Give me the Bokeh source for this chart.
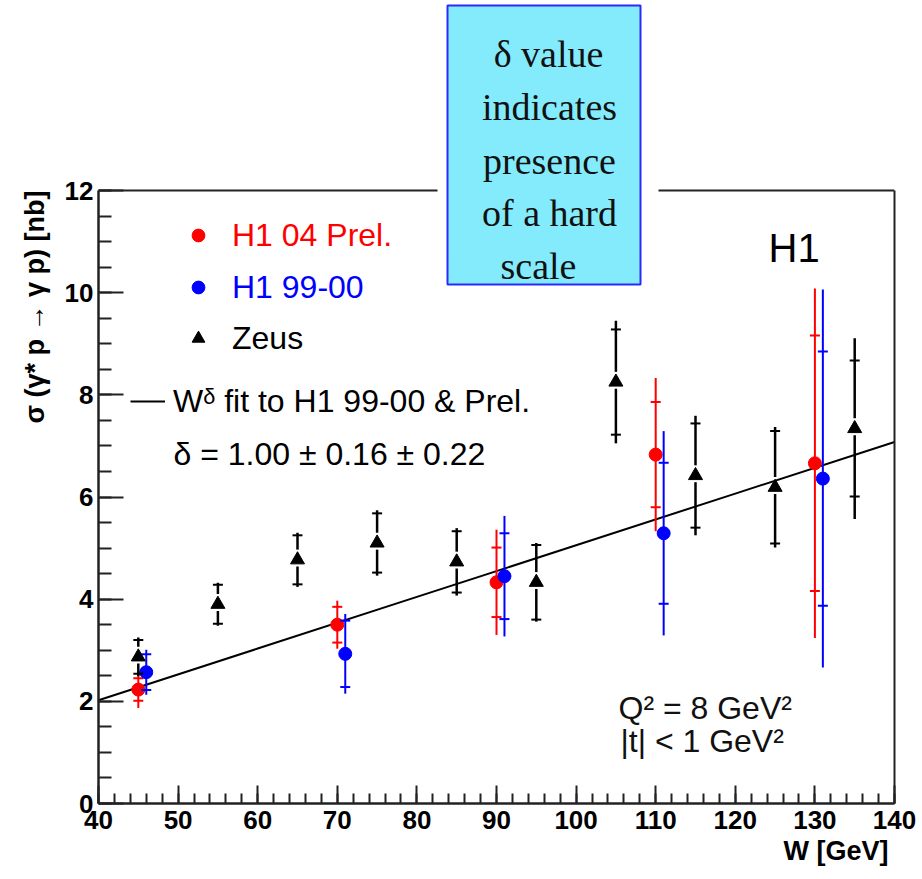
import numpy as np

from bokeh.plotting import figure
from bokeh.models import (Range1d, SingleIntervalTicker, FixedTicker, LinearAxis, Label,
                          BoxAnnotation, Legend, LegendItem, Span, Title)
from bokeh.embed import file_html
from bokeh.resources import INLINE

# ---------------------------------------------------------------- data
# DVCS cross section sigma(gamma* p -> gamma p) [nb] versus W [GeV]
h1_04_w = [45, 70, 90, 110, 130]
h1_04_sigma = [2.23, 3.50, 4.33, 6.83, 6.66]
h1_04_stat = [0.22, 0.35, 0.68, 1.03, 2.50]
h1_04_tot = [0.36, 0.47, 1.03, 1.50, 3.42]

h1_9900_w = [46, 71, 91, 111, 131]
h1_9900_sigma = [2.57, 2.93, 4.45, 5.29, 6.36]
h1_9900_stat = [0.35, 0.65, 0.84, 1.38, 2.49]
h1_9900_tot = [0.44, 0.78, 1.18, 2.00, 3.70]

zeus_w = [45, 55, 65, 75, 85, 95, 105, 115, 125, 135]
zeus_sigma = [2.87, 3.90, 4.77, 5.10, 4.73, 4.33, 8.25, 6.42, 6.19, 7.34]
zeus_stat = [0.33, 0.38, 0.48, 0.58, 0.60, 0.73, 1.03, 1.02, 1.10, 1.33]
zeus_tot = [0.38, 0.42, 0.53, 0.64, 0.66, 0.77, 1.20, 1.17, 1.18, 1.77]

# W^delta fit to H1 99-00 & Prel.: sigma = fit_norm * (W / fit_w0)^fit_delta
fit_w0 = 90.0
fit_norm = 4.55
fit_delta = 1.00
fit_w = [40, 60, 80, 100, 120, 140]

x_lo, x_hi = 40, 140
y_lo, y_hi = 0, 12
x_ticks_interval = 10
y_ticks_interval = 2

RED = "#ff0000"
BLUE = "#0000ff"
BLACK = "#000000"
EDGE = "#222222"
SANS = "Liberation Sans"

# ---------------------------------------------------------------- figure
# The plotting area reaches the top of the canvas so that the call-out box
# above the axes can be drawn; the visible frame stops at y = 12.
WIDTH, HEIGHT = 922, 879
BORDER_TOP_VISIBLE, BORDER_BOTTOM = 190, 76
frame_h = HEIGHT - BORDER_BOTTOM
y_top = y_hi * frame_h / (frame_h - BORDER_TOP_VISIBLE)

p = figure(width=WIDTH, height=HEIGHT, output_backend="svg", toolbar_location=None,
           x_range=Range1d(x_lo, x_hi), y_range=Range1d(y_lo, y_top),
           min_border_left=98, min_border_right=28, min_border_top=0,
           min_border_bottom=BORDER_BOTTOM)
p.outline_line_color = None
p.grid.visible = False
p.background_fill_color = "white"
p.border_fill_color = "white"

xa = p.xaxis[0]
xa.ticker = SingleIntervalTicker(interval=x_ticks_interval, num_minor_ticks=5)
xa.major_tick_in, xa.major_tick_out = 18, 0
xa.minor_tick_in, xa.minor_tick_out = 10, 0
xa.major_label_standoff = 7
ya = p.yaxis[0]
ya.ticker = SingleIntervalTicker(interval=y_ticks_interval, num_minor_ticks=4)
ya.major_tick_in, ya.major_tick_out = 25, 0
ya.minor_tick_in, ya.minor_tick_out = 13, 0
ya.major_label_standoff = 5
ya.bounds = (y_lo, y_hi)
for ax in (xa, ya):
    ax.axis_line_width = 2.5
    ax.major_tick_line_width = 2
    ax.minor_tick_line_width = 2
    ax.axis_line_color = EDGE
    ax.major_tick_line_color = EDGE
    ax.minor_tick_line_color = EDGE
    ax.major_label_text_font = SANS
    ax.major_label_text_font_style = "bold"
    ax.major_label_text_font_size = "26px"
    ax.major_label_text_color = BLACK

# right and top edges of the frame
right_edge = LinearAxis(ticker=FixedTicker(ticks=[]), axis_line_width=2,
                        axis_line_color=EDGE, bounds=(y_lo, y_hi),
                        major_tick_line_color=None, minor_tick_line_color=None)
p.add_layout(right_edge, "right")
p.add_layout(Span(location=y_hi, dimension="width", line_color=EDGE, line_width=2))

# axis titles
p.add_layout(Title(text="\u03c3 (\u03b3* p \u2192 \u03b3 p) [nb]", align="right",
                   offset=BORDER_TOP_VISIBLE, standoff=24, text_font=SANS,
                   text_font_size="27px", text_font_style="bold",
                   text_color=BLACK), "left")
p.add_layout(Title(text="W [GeV]", align="right", offset=6, standoff=8,
                   vertical_align="top", text_font=SANS, text_font_size="27px",
                   text_font_style="bold", text_color=BLACK), "below")

# ---------------------------------------------------------------- fit line
fit_sigma = [fit_norm * (w / fit_w0) ** fit_delta for w in fit_w]
r_fit = p.line(fit_w, fit_sigma, line_color=BLACK, line_width=2)


# ---------------------------------------------------------------- data series
def h1_series(w, s, stat, tot, color):
    w = np.array(w, float); s = np.array(s, float)
    stat = np.array(stat, float); tot = np.array(tot, float)
    p.segment(x0=w, y0=s - tot, x1=w, y1=s + tot, line_color=color, line_width=2)
    p.scatter(np.concatenate([w, w]), np.concatenate([s - stat, s + stat]),
              marker="dash", size=10, line_color=color, line_width=2)
    return p.scatter(w, s, marker="circle", size=13, fill_color=color,
                     line_color=color)


r_red = h1_series(h1_04_w, h1_04_sigma, h1_04_stat, h1_04_tot, RED)
r_blue = h1_series(h1_9900_w, h1_9900_sigma, h1_9900_stat, h1_9900_tot, BLUE)

# Zeus: error bars leave a small gap around the triangle
gap_up, gap_dn = 0.20, 0.13
zw = np.array(zeus_w, float); zs = np.array(zeus_sigma, float)
zst = np.array(zeus_stat, float); zt = np.array(zeus_tot, float)
p.segment(x0=np.concatenate([zw, zw]), y0=np.concatenate([zs + gap_up, zs - gap_dn]),
          x1=np.concatenate([zw, zw]), y1=np.concatenate([zs + zt, zs - zt]),
          line_color=BLACK, line_width=2.5)
p.scatter(np.concatenate([zw, zw]), np.concatenate([zs - zst, zs + zst]),
          marker="dash", size=10, line_color=BLACK, line_width=2)
r_zeus = p.scatter(zw, zs, marker="triangle", size=14, fill_color=BLACK,
                   line_color=BLACK)


# ---------------------------------------------------------------- legends
def one_row_legend(label, renderer, color, loc, glyph_w, standoff):
    leg = Legend(items=[LegendItem(label=label, renderers=[renderer])],
                 location=loc, orientation="vertical",
                 glyph_width=glyph_w, glyph_height=38, label_height=38,
                 label_standoff=standoff, spacing=0, padding=0, margin=0,
                 border_line_color=None, background_fill_alpha=0,
                 label_text_font=SANS, label_text_font_size="32px",
                 label_text_color=color)
    p.add_layout(leg)


one_row_legend("H1 04 Prel.", r_red, RED, (84, 549), 32, 18)
one_row_legend("H1 99-00", r_blue, BLUE, (84, 497), 32, 18)
one_row_legend("Zeus", r_zeus, BLACK, (84, 446), 32, 18)
one_row_legend("W\u1d5f fit to H1 99-00 & Prel.", r_fit, BLACK, (32, 383), 35, 8)


# ---------------------------------------------------------------- texts
def text(t, x, y, size, font=SANS, style="normal", align="left",
         baseline="alphabetic", color=BLACK, level="annotation"):
    p.add_layout(Label(x=x, y=y, x_units="canvas", y_units="canvas", text=t,
                       text_font=font, text_font_size=size, text_font_style=style,
                       text_align=align, text_baseline=baseline,
                       text_color=color, level=level))


text("\u03b4 = 1.00 \u00b1 0.16 \u00b1 0.22", 173, 453, "32px")
text("H1", 768, 247, "40px")
text("Q\u00b2 = 8 GeV\u00b2", 618, 707, "32px", color="#111111")
text("|t| < 1 GeV\u00b2", 620, 740, "32px", color="#111111")

# call-out box about the delta value
p.add_layout(BoxAnnotation(left=437, right=658, top=184, bottom=196,
                           left_units="canvas", right_units="canvas",
                           top_units="canvas", bottom_units="canvas",
                           fill_color="white", fill_alpha=1.0, line_color=None,
                           level="overlay"))
p.add_layout(BoxAnnotation(left=447, right=640, top=5, bottom=284,
                           left_units="canvas", right_units="canvas",
                           top_units="canvas", bottom_units="canvas",
                           fill_color="#84ebfd", fill_alpha=1.0,
                           line_color="#2a2aff", line_width=2, line_alpha=1.0,
                           level="overlay"))
box_lines = ["\u03b4 value", "indicates", "presence", "of a hard", "scale"]
box_x = [548, 549, 549, 549, 538]
box_base = [53, 106, 160, 212, 265]
for t, bx, by in zip(box_lines, box_x, box_base):
    text(t, bx, by, "38px", font="Liberation Serif", align="center",
         color="#111111", level="overlay")

open("out.html", "w").write(file_html(p, INLINE))
